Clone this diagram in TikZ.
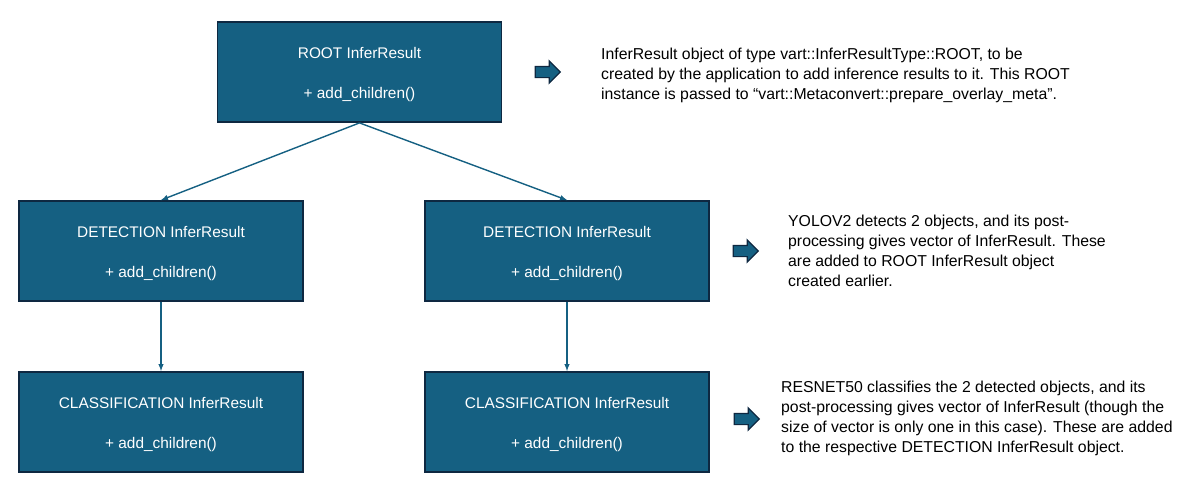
\documentclass[tikz,border=0pt]{standalone}
\usepackage{fontspec}
\setmainfont{Liberation Sans}
\usepackage{tikz}
\usetikzlibrary{arrows,shapes,positioning}
\definecolor{boxblue}{HTML}{156082}
\definecolor{boxedge}{HTML}{0E2841}
\newcommand{\inferlines}[1]{\rule{0pt}{17pt}#1\\[20pt]+ add\_children()}

\begin{document}
\begin{tikzpicture}[x=1pt,y=-1pt,
    infer/.style={draw=boxedge,line width=1.8pt,fill=boxblue,text=white,
        minimum width=284pt,minimum height=100pt,inner sep=0pt,align=center,
        font=\fontsize{15.4}{20}\selectfont},
    note/.style={anchor=west,inner sep=0pt,align=left,text=black,
        font=\fontsize{15.8}{20}\selectfont},
    fat/.style={single arrow,draw=boxedge,line width=1.2pt,fill=boxblue,
        single arrow head extend=5.5pt,inner sep=5pt,minimum height=25pt},
    link/.style={draw=boxblue,line width=1.4pt,-latex}]
    \useasboundingbox (0,0) rectangle (1197,501);
    % tree of InferResult objects
    \node [infer] (root) at (359.5,72) {\inferlines{ROOT InferResult}};
    \node [infer] (detl) at (161,251) {\inferlines{DETECTION InferResult}};
    \node [infer] (detr) at (567,251) {\inferlines{DETECTION InferResult}};
    \node [infer] (clsl) at (161,422) {\inferlines{CLASSIFICATION InferResult}};
    \node [infer] (clsr) at (567,422) {\inferlines{CLASSIFICATION InferResult}};
    \draw [link] (root.south) -- (detl.north);
    \draw [link] (root.south) -- (detr.north);
    \draw [link] (detl.south) -- (clsl.north);
    \draw [link] (detr.south) -- (clsr.north);
    % notes
    \node [fat] (aroot) at (545,72) {};
    \node [fat] (adet) at (743,251) {};
    \node [fat] (acls) at (744,419) {};
    \node [note] (nroot) at (601,75) {InferResult object of type vart::InferResultType::ROOT, to be\\
        created by the application to add inference results to it. This ROOT\\
        instance is passed to “vart::Metaconvert::prepare\_overlay\_meta”.};
    \node [note] (ndet) at (788,251) {YOLOV2 detects 2 objects, and its post-\\
        processing gives vector of InferResult. These\\
        are added to ROOT InferResult object\\
        created earlier.};
    \node [note] (ncls) at (781,418) {RESNET50 classifies the 2 detected objects, and its\\
        post-processing gives vector of InferResult (though the\\
        size of vector is only one in this case). These are added\\
        to the respective DETECTION InferResult object.};
\end{tikzpicture}
\end{document}
